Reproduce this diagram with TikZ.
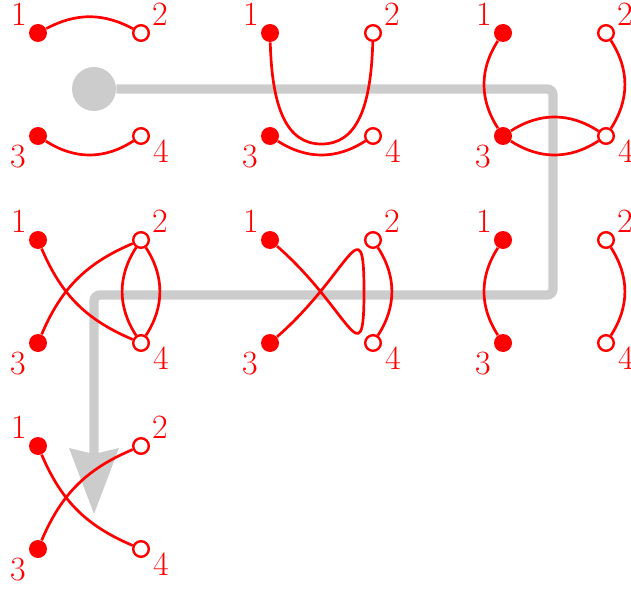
\documentclass[tikz,border=0pt]{standalone}
\usepackage{xcolor}
\usepackage{tikz}
\usetikzlibrary{arrows.meta}
\definecolor{routegray}{HTML}{CCCCCC}

\tikzset{
    full/.style={circle, fill=red, inner sep=0pt, minimum size=9pt},
    hollow/.style={circle, draw=red, fill=white, line width=1.2pt, inner sep=0pt, minimum size=7.8pt},
    tag/.style={text=red, inner sep=0pt, font=\fontsize{17}{20}\selectfont},
    link/.style={draw=red, line width=1.35pt},
    route/.style={draw=routegray, line width=4.7pt, rounded corners=3pt,
        -{Stealth[length=33pt, width=25pt, inset=3pt, line width=0pt]}},
}

% four points of one panel, #1 prefix, (#2,#3) lower left point
\newcommand\quartet[3]{%
    \begin{scope}[shift={(#2,#3)}]
        \node[full]   (#1-1) at (0,103) {};
        \node[hollow] (#1-2) at (103,103) {};
        \node[full]   (#1-3) at (0,0) {};
        \node[hollow] (#1-4) at (103,0) {};
        \node[tag] (#1-1l) at (-19,122) {1};
        \node[tag] (#1-2l) at (122,122) {2};
        \node[tag] (#1-3l) at (-20,-20.5) {3};
        \node[tag] (#1-4l) at (123,-15.5) {4};
    \end{scope}}

\begin{document}
\begin{tikzpicture}[x=0.5pt, y=0.5pt]
    \useasboundingbox (0,0) rectangle (631,590);

    % route through the panels
    \node[circle, fill=routegray, inner sep=0pt, minimum size=22pt] (start) at (94,501) {};
    \coordinate (r1) at (553,501);
    \coordinate (r2) at (553,295);
    \coordinate (r3) at (94,295);
    \coordinate (r4) at (94,76);
    \draw[route] (start) -- (r1) -- (r2) -- (r3) -- (r4);

    \quartet{a}{38}{454}
    \quartet{b}{270}{454}
    \quartet{c}{503}{454}
    \quartet{d}{38}{247}
    \quartet{e}{270}{247}
    \quartet{f}{503}{247}
    \quartet{g}{38}{41}
    \coordinate (bB) at (321.5,446);
    \coordinate (eR) at (364,298.5);

    \draw[link] (a-1) to[bend left=28] (a-2);
    \draw[link] (a-3) to[bend right=33] (a-4);

    \draw[link] (b-1) .. controls +(2,-75) and +(-35,0) .. (bB)
                      .. controls +(35,0) and +(-2,-75) .. (b-2);
    \draw[link] (b-3) to[bend right=33] (b-4);

    \draw[link] (c-1) to[bend right=33] (c-3);
    \draw[link] (c-2) to[bend left=33] (c-4);
    \draw[link] (c-3) to[bend left=33] (c-4);
    \draw[link] (c-3) to[bend right=33] (c-4);

    \draw[link] (d-1) to[bend right=22] (d-4);
    \draw[link] (d-3) to[bend left=22] (d-2);
    \draw[link] (d-2) to[bend left=33] (d-4);
    \draw[link] (d-2) to[bend right=33] (d-4);

    \draw[link] (e-1) .. controls +(80,-70) and +(0,-89) .. (eR)
                      .. controls +(0,89) and +(80,70) .. (e-3);
    \draw[link] (e-2) to[bend left=33] (e-4);

    \draw[link] (f-1) to[bend right=33] (f-3);
    \draw[link] (f-2) to[bend left=33] (f-4);

    \draw[link] (g-1) to[bend right=22] (g-4);
    \draw[link] (g-3) to[bend left=22] (g-2);
\end{tikzpicture}
\end{document}
